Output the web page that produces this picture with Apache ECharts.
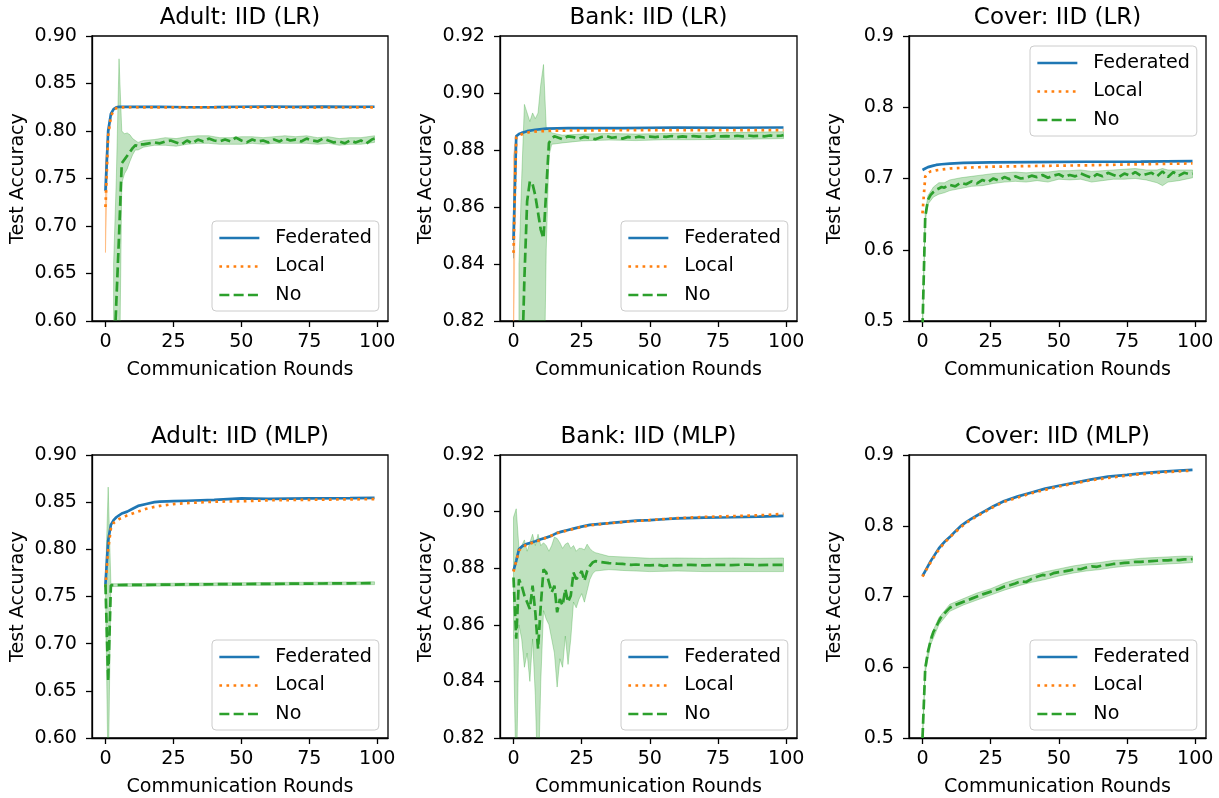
<!doctype html>
<html lang="en">
<head>
<meta charset="UTF-8">
<title>Test accuracy vs communication rounds</title>
<style>
  * { margin: 0; padding: 0; }
  html, body { width: 100%; height: 100%; background: #fff; }
  #main { width: 1219px; height: 798px; }
</style>
</head>
<body>
<div id="main"></div>
<script src="https://cdn.jsdelivr.net/npm/echarts@6/dist/echarts.min.js"></script>
<script>
// ---- data: [round, accuracy]; bands are [round, low, high] ----
var titles = ['Adult: IID (LR)', 'Bank: IID (LR)', 'Cover: IID (LR)',
              'Adult: IID (MLP)', 'Bank: IID (MLP)', 'Cover: IID (MLP)'];
var seriesNames = ['Federated', 'Local', 'No'];
var xTicks = [0, 25, 50, 75, 100];
var yMins = [0.6, 0.82, 0.5, 0.6, 0.82, 0.5];
var yMaxs = [0.9, 0.92, 0.9, 0.9, 0.92, 0.9];
var ySteps = [0.05, 0.02, 0.1, 0.05, 0.02, 0.1];
var yDecimals = [2, 2, 1, 2, 2, 1];

// Adult, LR
var adultLrFed = [[0,0.737],[1,0.800],[2,0.818],[3,0.823],[4,0.825],[5,0.8255],[10,0.8255],[20,0.8255],[30,0.8250],[40,0.8252],[50,0.8255],[60,0.8258],[70,0.8254],[80,0.8256],[90,0.8253],[99,0.8255]];
var adultLrLoc = [[0,0.720],[1,0.795],[2,0.815],[3,0.822],[4,0.824],[5,0.8248],[10,0.825],[25,0.8248],[50,0.8248],[75,0.8247],[99,0.8248]];
var adultLrNo = [[0,0.30],[1,0.35],[2,0.42],[3,0.55],[4,0.62],[5,0.69],[6,0.766],[7,0.770],[8,0.774],[9,0.778],[10,0.782],[11,0.785],[12,0.784],[13,0.786],[14,0.786],[16,0.787],[18,0.788],[20,0.787],[22,0.789],[24,0.790],[26,0.788],[28,0.786],[30,0.790],[32,0.787],[34,0.791],[36,0.789],[38,0.792],[40,0.790],[42,0.789],[44,0.791],[46,0.789],[48,0.793],[50,0.790],[52,0.788],[54,0.791],[56,0.789],[58,0.790],[60,0.788],[62,0.791],[64,0.789],[66,0.792],[68,0.790],[70,0.791],[72,0.789],[74,0.792],[76,0.790],[78,0.789],[80,0.792],[82,0.790],[84,0.788],[86,0.789],[88,0.787],[90,0.790],[92,0.788],[94,0.790],[96,0.787],[98,0.791],[99,0.792]];
var adultLrLocBand = [[0,0.672,0.768],[1,0.793,0.797],[2,0.814,0.816]];
var adultLrNoBand = [[3,0.45,0.66],[4,0.50,0.75],[5,0.50,0.876],[6,0.745,0.800],[7,0.755,0.797],[8,0.760,0.798],[9,0.768,0.796],[10,0.775,0.792],[11,0.780,0.790],[12,0.780,0.788],[14,0.783,0.790],[18,0.785,0.791],[22,0.785,0.793],[26,0.784,0.792],[30,0.786,0.794],[34,0.787,0.795],[38,0.787,0.795],[42,0.786,0.793],[46,0.786,0.793],[50,0.786,0.794],[54,0.787,0.794],[58,0.786,0.793],[62,0.787,0.794],[66,0.787,0.795],[70,0.787,0.794],[74,0.787,0.795],[78,0.786,0.793],[82,0.787,0.794],[86,0.785,0.792],[90,0.786,0.793],[94,0.786,0.793],[99,0.788,0.795]];

// Bank, LR
var bankLrFed = [[0,0.8484],[1,0.8848],[2,0.8856],[3,0.8860],[5,0.8866],[8,0.8871],[12,0.8875],[20,0.8877],[40,0.8877],[60,0.8879],[80,0.8878],[99,0.8879]];
var bankLrLoc = [[0,0.8439],[1,0.8845],[2,0.8852],[4,0.8858],[6,0.8863],[10,0.8866],[15,0.8868],[30,0.8869],[60,0.8870],[99,0.8870]];
var bankLrNo = [[0,0.70],[1,0.74],[2,0.77],[3,0.80],[4,0.835],[5,0.862],[6,0.869],[7,0.868],[8,0.864],[9,0.858],[10,0.852],[11,0.849],[12,0.866],[13,0.8825],[14,0.8840],[15,0.8848],[16,0.8845],[18,0.8838],[20,0.8848],[22,0.8845],[24,0.8840],[26,0.8846],[28,0.8842],[30,0.8838],[32,0.8845],[34,0.8849],[36,0.8843],[38,0.8845],[40,0.8840],[42,0.8846],[44,0.8843],[46,0.8847],[48,0.8844],[50,0.8847],[52,0.8845],[54,0.8848],[56,0.8846],[58,0.8849],[60,0.8845],[62,0.8848],[64,0.8846],[66,0.8849],[68,0.8847],[70,0.8848],[72,0.8846],[74,0.8850],[76,0.8848],[78,0.8849],[80,0.8847],[82,0.8850],[84,0.8848],[86,0.8851],[88,0.8849],[90,0.8850],[92,0.8848],[94,0.8851],[96,0.8849],[98,0.8850],[99,0.8852]];
var bankLrFedBand = [[0,0.842,0.855],[1,0.8843,0.8853]];
var bankLrLocBand = [[0,0.81,0.878],[1,0.8840,0.8850]];
var bankLrNoBand = [[2,0.70,0.84],[3,0.72,0.87],[4,0.75,0.896],[5,0.80,0.893],[6,0.80,0.890],[7,0.81,0.893],[8,0.80,0.891],[9,0.80,0.893],[10,0.78,0.903],[11,0.78,0.910],[12,0.845,0.888],[13,0.878,0.887],[14,0.882,0.886],[18,0.8825,0.8852],[25,0.8832,0.8856],[35,0.8835,0.8858],[45,0.8833,0.8856],[55,0.8836,0.8858],[65,0.8836,0.8859],[75,0.8837,0.8861],[85,0.8838,0.8862],[99,0.8840,0.8864]];

// Cover, LR
var coverLrFed = [[0,0.712],[1,0.714],[2,0.716],[3,0.717],[4,0.718],[5,0.719],[7,0.720],[10,0.721],[15,0.722],[25,0.7225],[40,0.723],[60,0.7235],[80,0.7238],[99,0.7243]];
var coverLrLoc = [[0,0.651],[1,0.7026],[2,0.708],[3,0.710],[5,0.7115],[10,0.714],[15,0.715],[25,0.7165],[40,0.7175],[60,0.7185],[80,0.720],[99,0.7212]];
var coverLrNo = [[0,0.49],[1,0.646],[2,0.670],[3,0.677],[4,0.681],[5,0.684],[6,0.686],[7,0.688],[8,0.687],[9,0.690],[10,0.691],[12,0.689],[14,0.694],[16,0.692],[18,0.696],[20,0.693],[22,0.698],[24,0.695],[26,0.700],[28,0.697],[30,0.702],[32,0.699],[34,0.703],[36,0.700],[38,0.701],[40,0.704],[42,0.702],[44,0.705],[46,0.701],[48,0.704],[50,0.706],[52,0.702],[54,0.705],[56,0.703],[58,0.707],[60,0.704],[62,0.701],[64,0.706],[66,0.703],[68,0.708],[70,0.705],[72,0.702],[74,0.707],[76,0.704],[78,0.709],[80,0.704],[82,0.706],[84,0.708],[86,0.703],[88,0.710],[90,0.702],[92,0.709],[94,0.704],[96,0.708],[98,0.706],[99,0.707]];
var coverLrNoBand = [[0,0.48,0.50],[1,0.640,0.652],[2,0.664,0.676],[4,0.674,0.688],[6,0.678,0.694],[8,0.680,0.694],[10,0.683,0.698],[14,0.686,0.701],[18,0.689,0.703],[22,0.690,0.705],[26,0.693,0.707],[30,0.695,0.708],[34,0.696,0.709],[38,0.695,0.708],[42,0.697,0.709],[46,0.695,0.709],[50,0.699,0.711],[54,0.698,0.711],[58,0.699,0.712],[62,0.695,0.710],[66,0.697,0.711],[70,0.699,0.712],[74,0.699,0.713],[78,0.700,0.714],[82,0.698,0.712],[86,0.694,0.712],[88,0.690,0.714],[90,0.695,0.712],[94,0.697,0.712],[99,0.701,0.712]];

// Adult, MLP
var adultMlpFed = [[0,0.763],[1,0.8095],[2,0.826],[3,0.831],[4,0.834],[5,0.836],[6,0.838],[8,0.840],[10,0.843],[12,0.846],[15,0.848],[18,0.850],[20,0.8505],[25,0.851],[30,0.8515],[40,0.8525],[50,0.854],[60,0.8535],[75,0.854],[90,0.8542],[99,0.8545]];
var adultMlpLoc = [[0,0.760],[1,0.800],[2,0.822],[3,0.828],[5,0.832],[8,0.836],[10,0.838],[13,0.841],[15,0.843],[18,0.845],[20,0.846],[25,0.848],[30,0.849],[40,0.8505],[50,0.851],[60,0.852],[75,0.8525],[90,0.853],[99,0.8532]];
var adultMlpNo = [[0,0.763],[1,0.660],[2,0.762],[5,0.7622],[10,0.7623],[20,0.7625],[30,0.7628],[40,0.7630],[50,0.7632],[60,0.7634],[70,0.7636],[80,0.7638],[90,0.7640],[99,0.7641]];
var adultMlpNoBand = [[0,0.760,0.766],[1,0.55,0.866],[2,0.7605,0.7635],[50,0.7617,0.7647],[99,0.7626,0.7656]];

// Bank, MLP
var bankMlpFed = [[0,0.8791],[1,0.8826],[2,0.8867],[3,0.8876],[4,0.8882],[5,0.8886],[6,0.8889],[8,0.8895],[10,0.8902],[12,0.8908],[14,0.8915],[16,0.8925],[18,0.8930],[20,0.8935],[22,0.8940],[25,0.8947],[28,0.8953],[30,0.8955],[35,0.8959],[40,0.8964],[45,0.8968],[50,0.8970],[55,0.8973],[60,0.8976],[70,0.8979],[80,0.8980],[90,0.8982],[99,0.8985]];
var bankMlpLoc = [[0,0.8788],[1,0.8825],[2,0.8862],[3,0.8873],[5,0.8884],[8,0.8893],[10,0.8900],[13,0.8912],[16,0.8924],[20,0.8934],[25,0.8946],[30,0.8954],[40,0.8963],[50,0.8970],[60,0.8977],[70,0.8981],[80,0.8984],[90,0.8987],[99,0.8992]];
var bankMlpNo = [[0,0.8767],[1,0.8551],[2,0.8761],[3,0.8738],[4,0.8703],[5,0.8680],[6,0.8656],[7,0.8738],[8,0.8644],[9,0.8516],[10,0.8668],[11,0.8796],[12,0.8785],[13,0.8750],[14,0.8715],[15,0.8738],[16,0.8644],[17,0.8691],[18,0.8668],[19,0.8726],[20,0.8680],[21,0.8703],[22,0.8785],[23,0.8761],[24,0.8773],[25,0.8790],[26,0.8755],[27,0.8790],[28,0.8808],[29,0.8820],[30,0.8825],[32,0.8822],[35,0.8818],[38,0.8816],[40,0.8815],[43,0.8812],[45,0.8813],[48,0.8811],[50,0.8810],[53,0.8812],[55,0.8808],[58,0.8811],[60,0.8810],[65,0.8812],[70,0.8810],[75,0.8812],[80,0.8811],[85,0.8813],[90,0.8811],[95,0.8812],[99,0.8812]];
var bankMlpNoBand = [[0,0.855,0.898],[1,0.80,0.901],[2,0.860,0.887],[3,0.855,0.888],[4,0.845,0.890],[5,0.850,0.886],[6,0.840,0.889],[7,0.855,0.892],[8,0.835,0.888],[9,0.80,0.892],[10,0.840,0.888],[11,0.865,0.889],[12,0.862,0.888],[13,0.860,0.886],[14,0.855,0.888],[15,0.850,0.891],[16,0.838,0.8905],[17,0.848,0.889],[18,0.845,0.887],[19,0.856,0.8885],[20,0.846,0.889],[21,0.855,0.887],[22,0.868,0.888],[23,0.866,0.886],[24,0.869,0.887],[25,0.871,0.887],[26,0.868,0.8865],[27,0.872,0.8885],[28,0.876,0.887],[29,0.878,0.886],[30,0.879,0.8855],[35,0.8795,0.8842],[40,0.8792,0.8840],[50,0.8788,0.8835],[60,0.8790,0.8836],[70,0.8788,0.8835],[80,0.8788,0.8836],[90,0.8788,0.8835],[99,0.8788,0.8836]];

// Cover, MLP
var coverMlpFed = [[0,0.729],[1,0.736],[2,0.743],[3,0.750],[4,0.756],[5,0.762],[6,0.768],[7,0.7725],[8,0.777],[10,0.784],[12,0.792],[14,0.7995],[16,0.805],[18,0.810],[20,0.8145],[23,0.821],[26,0.8275],[30,0.835],[35,0.8415],[40,0.847],[45,0.8525],[50,0.8565],[56,0.861],[62,0.8655],[68,0.8695],[75,0.872],[81,0.8745],[88,0.8765],[94,0.878],[99,0.879]];
var coverMlpLoc = [[0,0.728],[2,0.742],[5,0.761],[8,0.776],[12,0.791],[16,0.804],[20,0.8135],[26,0.8265],[30,0.834],[40,0.846],[50,0.8555],[62,0.8645],[75,0.871],[88,0.8755],[99,0.878]];
var coverMlpNo = [[0,0.50],[1,0.598],[2,0.622],[3,0.638],[4,0.650],[5,0.657],[6,0.665],[7,0.672],[8,0.676],[9,0.680],[10,0.684],[12,0.688],[14,0.691],[16,0.694],[18,0.697],[20,0.700],[22,0.703],[24,0.7055],[26,0.708],[28,0.7105],[30,0.714],[32,0.716],[34,0.7185],[36,0.7215],[38,0.7205],[40,0.725],[42,0.728],[44,0.7305],[46,0.7295],[48,0.733],[50,0.7345],[52,0.7355],[54,0.737],[56,0.739],[58,0.7385],[60,0.741],[62,0.7425],[64,0.742],[66,0.744],[68,0.7445],[70,0.746],[72,0.7465],[74,0.7475],[76,0.748],[78,0.749],[80,0.749],[82,0.7495],[84,0.750],[86,0.7505],[88,0.751],[90,0.751],[92,0.752],[94,0.7515],[96,0.7525],[98,0.7525],[99,0.753]];
var coverMlpNoBand = [[0,0.495,0.505],[1,0.592,0.604],[3,0.632,0.644],[6,0.660,0.670],[10,0.679,0.689],[15,0.688,0.697],[20,0.695,0.705],[25,0.702,0.711],[30,0.709,0.719],[35,0.715,0.725],[40,0.720,0.730],[45,0.724,0.735],[50,0.729,0.739],[55,0.733,0.743],[60,0.736,0.746],[65,0.738,0.748],[70,0.741,0.751],[75,0.743,0.752],[80,0.744,0.754],[85,0.745,0.755],[90,0.746,0.756],[95,0.747,0.757],[99,0.748,0.757]];

var fedData = [adultLrFed, bankLrFed, coverLrFed, adultMlpFed, bankMlpFed, coverMlpFed];
var locData = [adultLrLoc, bankLrLoc, coverLrLoc, adultMlpLoc, bankMlpLoc, coverMlpLoc];
var noData = [adultLrNo, bankLrNo, coverLrNo, adultMlpNo, bankMlpNo, coverMlpNo];
var fedBands = [null, bankLrFedBand, null, null, null, null];
var locBands = [adultLrLocBand, bankLrLocBand, null, null, null, null];
var noBands = [adultLrNoBand, bankLrNoBand, coverLrNoBand, adultMlpNoBand, bankMlpNoBand, coverMlpNoBand];

// ---- layout ----
var gridLefts = [92, 500, 909, 92, 500, 909];
var gridWidths = [296, 297, 297, 296, 297, 297];
var gridTops = [36, 36, 36, 455, 455, 455];
var gridHeight = 285;
var legendPos = [[212, 221], [621, 221], [1030, 46], [212, 640], [621, 640], [1030, 640]];

var FONT = 'DejaVu Sans';
var FS = 19.1;
var BLUE = '#1f77b4', ORANGE = '#ff7f0e', GREEN = '#2ca02c';
var LW = 2.7;

function bandSeries(i, pts, color) {
    return {
        type: 'custom',
        xAxisIndex: i,
        yAxisIndex: i,
        silent: true,
        z: 1,
        data: [[pts[0][0], pts[0][1]]],
        encode: { x: 0, y: 1 },
        renderItem: function (params, api) {
            var up = pts.map(function (p) { return api.coord([p[0], p[2]]); });
            var lo = pts.map(function (p) { return api.coord([p[0], p[1]]); }).reverse();
            var cs = params.coordSys;
            return {
                type: 'polygon',
                shape: { points: up.concat(lo) },
                style: { fill: color, stroke: color, lineWidth: 1, opacity: 0.3 },
                clipPath: { type: 'rect', shape: { x: cs.x, y: cs.y, width: cs.width, height: cs.height } }
            };
        }
    };
}

function lineSeries(i, name, pts, color, dash, z) {
    return {
        type: 'line',
        name: name,
        xAxisIndex: i,
        yAxisIndex: i,
        data: pts,
        symbol: 'none',
        showSymbol: false,
        clip: true,
        z: z,
        itemStyle: { color: color },
        lineStyle: { color: color, width: LW, type: dash, cap: 'butt' },
        emphasis: { disabled: true }
    };
}

var option = {
    animation: false,
    backgroundColor: '#fff',
    textStyle: { fontFamily: FONT },
    title: [], legend: [], grid: [], xAxis: [], yAxis: [], series: []
};

for (var i = 0; i < 6; i++) {
    var gTop = gridTops[i];
    option.title.push({
        text: titles[i],
        left: gridLefts[i] + gridWidths[i] / 2,
        top: gTop - 29,
        textAlign: 'center',
        padding: 0,
        textStyle: { fontFamily: FONT, fontSize: 23, fontWeight: 'normal', color: '#000' }
    });
    option.grid.push({
        left: gridLefts[i], top: gTop, width: gridWidths[i], height: gridHeight,
        show: true, borderColor: '#000', borderWidth: 1.3, backgroundColor: 'transparent'
    });
    option.xAxis.push({
        type: 'value', gridIndex: i, min: -4.95, max: 103.95,
        name: 'Communication Rounds', nameLocation: 'middle', nameGap: 40,
        nameTextStyle: { fontFamily: FONT, fontSize: FS, color: '#000' },
        axisLine: { show: true, onZero: false, lineStyle: { color: '#000', width: 1.3 } },
        axisTick: { show: true, length: 6, lineStyle: { color: '#000', width: 1.3 }, customValues: xTicks },
        axisLabel: { fontFamily: FONT, fontSize: FS, color: '#000', margin: 12, customValues: xTicks },
        splitLine: { show: false }
    });
    option.yAxis.push({
        type: 'value', gridIndex: i, min: yMins[i], max: yMaxs[i], interval: ySteps[i],
        name: 'Test Accuracy', nameLocation: 'middle', nameGap: 64,
        nameTextStyle: { fontFamily: FONT, fontSize: FS, color: '#000' },
        axisLine: { show: true, onZero: false, lineStyle: { color: '#000', width: 1.3 } },
        axisTick: { show: true, length: 6, lineStyle: { color: '#000', width: 1.3 } },
        axisLabel: {
            fontFamily: FONT, fontSize: FS, color: '#000', margin: 15,
            formatter: (function (d) { return function (v) { return v.toFixed(d); }; })(yDecimals[i])
        },
        splitLine: { show: false }
    });
    option.legend.push({
        orient: 'vertical',
        left: legendPos[i][0], top: legendPos[i][1],
        data: seriesNames,
        itemWidth: 40, itemHeight: 14, itemGap: 8.5,
        padding: [7, 7, 6, 6],
        borderColor: '#cccccc', borderWidth: 1, borderRadius: 4,
        backgroundColor: 'rgba(255,255,255,0.8)',
        selectedMode: false,
        z: 10,
        itemStyle: { opacity: 0 },
        lineStyle: { width: LW },
        textStyle: { fontFamily: FONT, fontSize: FS, color: '#000', lineHeight: 20, padding: [0, 0, 0, 11] }
    });

    if (fedBands[i]) option.series.push(bandSeries(i, fedBands[i], BLUE));
    if (locBands[i]) option.series.push(bandSeries(i, locBands[i], ORANGE));
    if (noBands[i]) option.series.push(bandSeries(i, noBands[i], GREEN));
    option.series.push(lineSeries(i, seriesNames[0], fedData[i], BLUE, 'solid', 3));
    option.series.push(lineSeries(i, seriesNames[1], locData[i], ORANGE, [2.7, 4.4], 4));
    option.series.push(lineSeries(i, seriesNames[2], noData[i], GREEN, [10, 4.3], 5));
}

var myChart = echarts.init(document.getElementById('main'));
myChart.setOption(option);
</script>
</body>
</html>
